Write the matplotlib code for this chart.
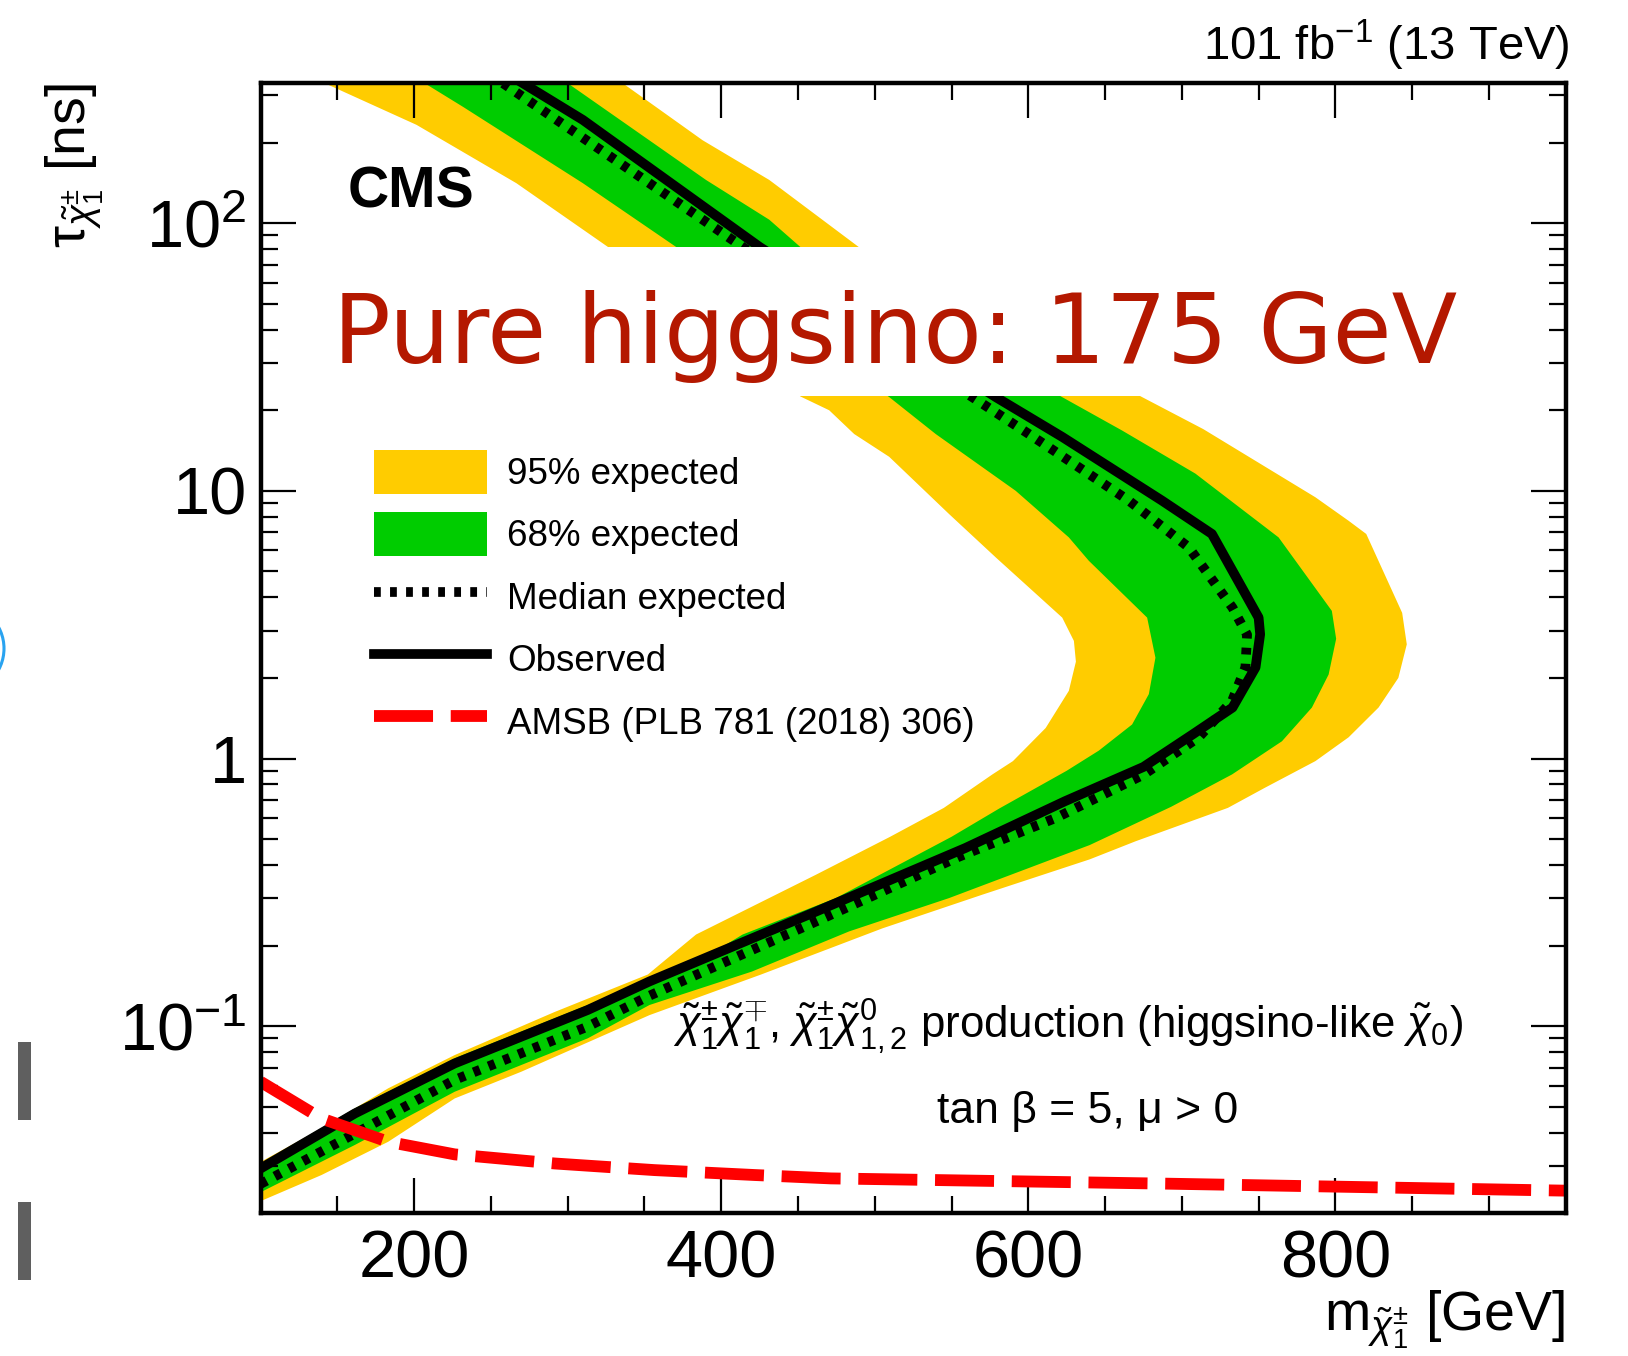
import numpy as np
import matplotlib.pyplot as plt
from matplotlib.patches import Patch, Rectangle, Ellipse
from matplotlib.lines import Line2D
from matplotlib.ticker import FixedLocator, LogLocator, NullFormatter

plt.rcParams['font.family'] = ['Liberation Sans', 'DejaVu Sans']
plt.rcParams['mathtext.fontset'] = 'custom'
plt.rcParams['mathtext.rm'] = 'Liberation Sans'
plt.rcParams['mathtext.it'] = 'Liberation Sans:italic'
plt.rcParams['mathtext.bf'] = 'Liberation Sans:bold'

# chargino mass [GeV] / lifetime [ns] along each limit contour
m2_mass = [141.9, 201.5, 266.6, 326.2, 451.7, 470.3, 486.6, 509.4, 548.4, 578.8, 622.1, 629.7,
           631.0, 626.4, 611.3, 590.0, 576.6, 545.0, 510.0, 461.7, 383.6, 352.2, 291.5, 226.4,
           183.1, 139.7, 96.4]
m2_tau = [333, 233, 141, 81.5, 22.5, 20.0, 16.3, 13.4, 8.19, 5.64, 3.36, 2.75,
          2.30, 1.79, 1.30, 0.978, 0.872, 0.654, 0.51, 0.368, 0.220, 0.156, 0.113, 0.078,
          0.0586, 0.0415, 0.0303]

m1_mass = [206.9, 231.8, 309.9, 370.6, 509.4, 539.7, 591.8, 626.4, 639.4, 677.4, 682.8, 678.5,
           667.6, 645.9, 625.0, 581.0, 550.0, 474.7, 413.9, 378.2, 313.1, 226.4, 161.4, 96.4]
m1_tau = [333, 272, 141, 81.5, 22.4, 16.3, 10.0, 6.70, 5.48, 3.36, 2.38, 1.74,
          1.34, 1.07, 0.90, 0.65, 0.51, 0.301, 0.220, 0.165, 0.120, 0.0759, 0.0493, 0.0298]

p1_mass = [300.1, 390.1, 431.3, 451.5, 622.0, 661.1, 708.8, 763.0, 797.7, 800.5, 795.6, 784.7,
           765.2, 732.7, 693.0, 640.0, 548.4, 483.3, 420.0, 353.3, 313.1, 226.4, 161.4, 96.4]
p1_tau = [333, 145, 103, 81.5, 22.4, 16.8, 11.6, 6.70, 3.56, 2.80, 2.06, 1.55,
          1.16, 0.872, 0.66, 0.475, 0.301, 0.226, 0.160, 0.120, 0.0901, 0.0569, 0.0360, 0.0234]

p2_mass = [335.9, 387.9, 431.3, 489.5, 674.1, 714.0, 787.0, 808.6, 820.1, 843.5, 846.5, 841.0,
           828.1, 808.6, 787.0, 754.0, 730.0, 670.0, 640.0, 570.1, 505.0, 426.0, 353.3, 269.8,
           226.4, 183.1, 139.7, 100.0]
p2_tau = [333, 204, 145, 81.5, 22.4, 17.0, 9.46, 7.73, 6.90, 3.50, 2.67, 2.00,
          1.55, 1.20, 0.978, 0.777, 0.654, 0.491, 0.42, 0.310, 0.232, 0.156, 0.110, 0.0676,
          0.0537, 0.0370, 0.0278, 0.0222]

exp_mass = [257.9, 414.0, 563.5, 600.4, 665.5, 704.5, 733.0, 742.5, 741.4, 732.7, 711.0, 675.0,
            618.0, 555.0, 461.7, 353.3, 313.1, 226.4, 161.4, 96.4]
exp_tau = [333, 81.5, 22.4, 16.3, 9.19, 6.15, 3.66, 2.90, 2.19, 1.64, 1.20, 0.87,
           0.60, 0.43, 0.246, 0.130, 0.0997, 0.0630, 0.0397, 0.0251]

obs_mass = [270.9, 309.9, 425.0, 578.8, 622.1, 687.1, 719.6, 750.0, 751.0, 748.0, 733.0, 707.0,
            675.0, 624.0, 559.0, 461.7, 353.3, 313.1, 226.4, 161.4, 96.4]
obs_tau = [333, 243, 81.5, 22.4, 15.9, 9.19, 6.90, 3.36, 2.91, 2.19, 1.55, 1.23,
           0.93, 0.693, 0.463, 0.268, 0.147, 0.115, 0.0726, 0.0472, 0.0286]

amsb_mass = [100, 139.7, 183.1, 226.4, 291.5, 356.5, 421.6, 471.4, 691.2, 931.7, 950]
amsb_tau = [0.062, 0.0452, 0.0370, 0.0332, 0.0307, 0.0290, 0.0278, 0.0270, 0.0258, 0.0244, 0.0243]

x_major = [200, 400, 600, 800]
y_major = [0.1, 1, 10, 100]
y_labels = [r'$10^{-1}$', '1', '10', r'$10^{2}$']

W, H = 1628, 1356
fig = plt.figure(figsize=(W / 100, H / 100), dpi=100)


def fpos(x, y):
    # pixel position -> figure fraction
    return x / W, 1 - y / H


ax = fig.add_axes([0.16007, 0.10524, 0.80166, 0.83333])
ax.set_yscale('log')
ax.set_xlim(100, 950)
ax.set_ylim(0.02, 333)

yellow = '#FFCC00'
green = '#00CC00'

ax.fill(np.r_[m2_mass, p2_mass[::-1]], np.r_[m2_tau, p2_tau[::-1]],
        color=yellow, lw=0, zorder=1)
ax.fill(np.r_[m1_mass, p1_mass[::-1]], np.r_[m1_tau, p1_tau[::-1]],
        color=green, lw=0, zorder=1.1)

dot_style = (0, (0.7, 0.95))
dash_style = (0, (5, 1.5))
ax.plot(exp_mass, exp_tau, color='k', lw=7, ls=dot_style, dash_capstyle='butt', zorder=2)
ax.plot(obs_mass, obs_tau, color='k', lw=7, zorder=2.05)
ax.plot(amsb_mass, amsb_tau, color='#FF0000', lw=8.5, ls=dash_style,
        dash_capstyle='butt', zorder=2.1)

# white strip with the handwritten note
ax.add_patch(Rectangle((0.03, 0.7235), 0.92, 0.1319, transform=ax.transAxes,
                       facecolor='white', edgecolor='none', zorder=2.3))
fig.text(*fpos(895, 363), 'Pure higgsino: 175 GeV', fontsize=69, color='#B41800',
         family='DejaVu Sans', ha='center', va='baseline', zorder=5)

for s in ax.spines.values():
    s.set_linewidth(3.2)

ax.set_xticks(x_major)
ax.set_xticklabels([str(v) for v in x_major])
ax.xaxis.set_minor_locator(FixedLocator(np.arange(150, 950, 50)))
ax.set_yticks(y_major)
ax.set_yticklabels(y_labels)
ax.yaxis.set_minor_locator(LogLocator(base=10, subs=np.arange(2, 10)))
ax.yaxis.set_minor_formatter(NullFormatter())
ax.tick_params(which='both', direction='in', top=True, right=True, width=1.6, zorder=3)
ax.tick_params(which='major', length=25, labelsize=48)
ax.tick_params(which='minor', length=12)
ax.tick_params(axis='x', pad=12)
ax.tick_params(axis='y', pad=10)

handles = [
    Patch(facecolor=yellow, edgecolor='none'),
    Patch(facecolor=green, edgecolor='none'),
    Line2D([], [], color='k', lw=7, ls=dot_style, dash_capstyle='butt'),
    Line2D([], [], color='k', lw=7),
    Line2D([], [], color='#FF0000', lw=8.5, ls=dash_style, dash_capstyle='butt'),
]
labels = ['95% expected', '68% expected', 'Median expected', 'Observed',
          'AMSB (PLB 781 (2018) 306)']
ax.legend(handles, labels, loc='upper left', bbox_to_anchor=(0.0869, 0.6755),
          frameon=False, fontsize=26.5, borderpad=0, borderaxespad=0,
          handlelength=3.07, handleheight=1.46, handletextpad=0.55, labelspacing=0.5)

fig.text(*fpos(348, 208), 'CMS', fontsize=41, fontweight='bold', ha='left', va='baseline')
fig.text(*fpos(1570, 60), '101 fb$^{-1}$ (13 TeV)', fontsize=34, ha='right', va='baseline')
fig.text(*fpos(673, 1038),
         r'$\tilde{\chi}^{\pm}_{1}\tilde{\chi}^{\mp}_{1}$, $\tilde{\chi}^{\pm}_{1}\tilde{\chi}^{0}_{1,2}$'
         r' production (higgsino-like $\tilde{\chi}_{0}$)',
         fontsize=31.5, ha='left', va='baseline')
fig.text(*fpos(937, 1123), 'tan β = 5, μ > 0', fontsize=32, ha='left', va='baseline')

fig.text(*fpos(1565, 1330), r'm$_{\tilde{\chi}^{\pm}_{1}}$ [GeV]', fontsize=40,
         ha='right', va='baseline')
fig.text(*fpos(75, 83), r'τ$_{\tilde{\chi}^{\pm}_{1}}$ [ns]', fontsize=40, rotation=90,
         ha='center', va='top')

# slide leftovers at the left margin
for y0 in (1042, 1202):
    fig.add_artist(Rectangle(fpos(18, y0 + 78), 13 / W, 78 / H, transform=fig.transFigure,
                             facecolor='#5f5f5f', edgecolor='none'))
fig.add_artist(Ellipse(fpos(-40.75, 648.5), 89.5 / W, 89.5 / H, transform=fig.transFigure,
                       facecolor='none', edgecolor='#29A3F0', lw=2.2))

fig.savefig('out.png', dpi=100)
